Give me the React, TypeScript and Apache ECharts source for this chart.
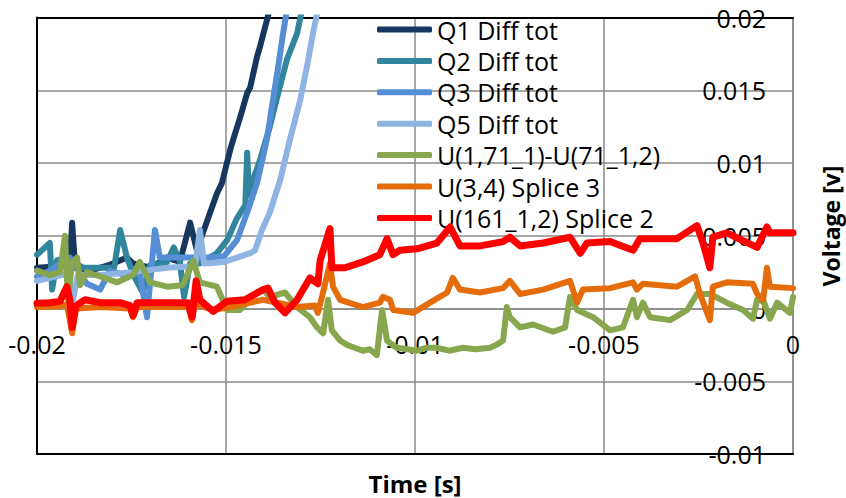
import React, { useEffect, useRef } from "react";
import * as echarts from "echarts";

const seriesNames = [
  "Q1 Diff tot",
  "Q2 Diff tot",
  "Q3 Diff tot",
  "Q5 Diff tot",
  "U(1,71_1)-U(71_1,2)",
  "U(3,4) Splice 3",
  "U(161_1,2) Splice 2",
];
const seriesColors = ["#17375E", "#31859C", "#558ED5", "#8EB4E3", "#87A64D", "#E46C0A", "#FF0000"];

const xTicks = [-0.02, -0.015, -0.01, -0.005, 0];
const yTicks = [-0.01, -0.005, 0, 0.005, 0.01, 0.015, 0.02];

const q1Diff = [
  [-0.02, 0.0028], [-0.0194, 0.0029], [-0.01913, 0.0032], [-0.01907, 0.0059], [-0.01899, 0.0028],
  [-0.0186, 0.0026], [-0.01807, 0.003], [-0.01762, 0.0035], [-0.01746, 0.0031], [-0.01701, 0.0028],
  [-0.01656, 0.0035], [-0.01622, 0.0032], [-0.01595, 0.0059], [-0.01577, 0.004], [-0.01561, 0.0052],
  [-0.01542, 0.0066], [-0.01524, 0.0079], [-0.01511, 0.0086], [-0.01489, 0.0109], [-0.01481, 0.0116],
  [-0.01463, 0.0131], [-0.01444, 0.0148], [-0.01436, 0.0152], [-0.01418, 0.0173], [-0.0141, 0.018],
  [-0.01392, 0.0198], [-0.01378, 0.0212],
];
const q2Diff = [
  [-0.02, 0.0037], [-0.01966, 0.0045], [-0.0196, 0.0013], [-0.01947, 0.0033], [-0.01921, 0.0035],
  [-0.01878, 0.0028], [-0.01833, 0.0028], [-0.01796, 0.0028], [-0.0178, 0.0054], [-0.01762, 0.0035],
  [-0.01743, 0.0022], [-0.0172, 0.0011], [-0.01701, 0.003], [-0.01656, 0.0032], [-0.01638, 0.0042],
  [-0.01622, 0.0032], [-0.01611, 0.0008], [-0.01595, 0.0031], [-0.01569, 0.0031], [-0.01524, 0.0038],
  [-0.01497, 0.0047], [-0.01471, 0.0062], [-0.01449, 0.0071], [-0.01444, 0.0107], [-0.01439, 0.0078],
  [-0.01436, 0.0083], [-0.0141, 0.0102], [-0.01384, 0.0125], [-0.01362, 0.0148], [-0.01339, 0.0171],
  [-0.01312, 0.0189], [-0.01304, 0.0199], [-0.01296, 0.0208],
];
const q3Diff = [
  [-0.02, 0.0022], [-0.01966, 0.0026], [-0.01913, 0.0035], [-0.01868, 0.0017], [-0.01833, 0.0013],
  [-0.01807, 0.0026], [-0.01767, 0.0023], [-0.01728, 0.0025], [-0.01709, -0.0006], [-0.01688, 0.0054],
  [-0.01675, 0.0035], [-0.01611, 0.0035], [-0.01542, 0.0035], [-0.01505, 0.0036], [-0.01471, 0.0047],
  [-0.01444, 0.0066], [-0.01418, 0.0086], [-0.01392, 0.0116], [-0.01376, 0.0143], [-0.01362, 0.0166],
  [-0.01349, 0.0189], [-0.01339, 0.0205],
];
const q5Diff = [
  [-0.02, 0.0019], [-0.01952, 0.0022], [-0.01921, 0.0024], [-0.01905, 0.0006], [-0.01892, 0.0023],
  [-0.01833, 0.0023], [-0.01746, 0.0025], [-0.01656, 0.0028], [-0.01582, 0.0029], [-0.01569, 0.0054],
  [-0.01558, 0.0031], [-0.01505, 0.0032], [-0.01471, 0.0035], [-0.01436, 0.0038], [-0.01423, 0.004],
  [-0.01405, 0.0054], [-0.01384, 0.0066], [-0.01357, 0.0088], [-0.01331, 0.0116], [-0.01304, 0.0143],
  [-0.01286, 0.0166], [-0.0127, 0.0189], [-0.01257, 0.0205],
];
const u171 = [
  [-0.02, 0.0026], [-0.01966, 0.0023], [-0.01939, 0.0025], [-0.01926, 0.005], [-0.01918, 0.0006],
  [-0.01907, 0.0032], [-0.01894, 0.0035], [-0.01886, 0.0016], [-0.01868, 0.0025], [-0.01833, 0.0022],
  [-0.01788, 0.0018], [-0.01746, 0.0023], [-0.01728, 0.0032], [-0.01701, 0.0018], [-0.01656, 0.0015],
  [-0.01614, 0.0016], [-0.01587, 0.0033], [-0.01569, 0.0018], [-0.01524, 0.0015], [-0.01497, -0.0001],
  [-0.01463, -0.0001], [-0.01418, 0.0011], [-0.01402, 0.0013], [-0.01384, 0.0008], [-0.01344, 0.0011],
  [-0.01312, 0.0001], [-0.01278, -0.0006], [-0.01259, -0.0013], [-0.01243, -0.0017], [-0.0123, 0.0006],
  [-0.0122, -0.0015], [-0.01198, -0.0022], [-0.0118, -0.0025], [-0.0116, -0.0027], [-0.01138, -0.0029],
  [-0.0112, -0.0028], [-0.01101, -0.0032], [-0.01087, -0.0001], [-0.01074, -0.0022], [-0.0106, -0.0025],
  [-0.01048, -0.0027], [-0.0102, -0.0028], [-0.00995, -0.0029], [-0.0097, -0.0027], [-0.00942, -0.0027],
  [-0.0091, -0.0029], [-0.00873, -0.0027], [-0.0084, -0.0028], [-0.00802, -0.0027], [-0.00785, -0.0025],
  [-0.00767, -0.0022], [-0.00757, 0.0001], [-0.00749, -0.0006], [-0.00722, -0.0013],
  [-0.00688, -0.0011], [-0.00635, -0.0016], [-0.00603, -0.0013], [-0.0059, 0.0008], [-0.00571, -0.0001],
  [-0.00529, -0.0006], [-0.00484, -0.0015], [-0.0045, -0.0013], [-0.00423, 0.0006], [-0.00413, -0.0006],
  [-0.00397, 0.0004], [-0.00378, -0.0006], [-0.00325, -0.0008], [-0.0028, -0.0001], [-0.00254, 0.001],
  [-0.0022, 0.001], [-0.00175, 0.0004], [-0.00132, -0.0001], [-0.00106, -0.0007], [-0.00095, 0.0006],
  [-0.00079, 0.0006], [-0.00061, -0.0007], [-0.00042, 0.0004], [-0.00008, -0.0003], [0, 0.0008],
];
const u34Splice3 = [
  [-0.02, 0.0001], [-0.01939, 0.00016], [-0.01921, 0.0003], [-0.01907, -0.0017], [-0.01897, 0.0],
  [-0.01833, 0.0001], [-0.01754, 0.0], [-0.01746, -0.0006], [-0.01735, 0.0001], [-0.01648, 0.0001],
  [-0.016, 0.0001], [-0.0159, -0.0008], [-0.01579, 0.0006], [-0.01569, 0.0002], [-0.01534, -0.0001],
  [-0.01489, 0.0001], [-0.01402, 0.0006], [-0.01312, 0.0001], [-0.01265, 0.0002], [-0.01257, -0.0003],
  [-0.01246, 0.0008], [-0.01225, 0.0031], [-0.01217, 0.0015], [-0.01198, 0.0006], [-0.01138, 0.0001],
  [-0.01093, 0.0004], [-0.01085, 0.0008], [-0.01066, 0.0006], [-0.01058, -0.0001], [-0.01005, -0.0003],
  [-0.0096, 0.0004], [-0.00915, 0.0011], [-0.009, 0.0021], [-0.00881, 0.0013], [-0.00828, 0.0011],
  [-0.00767, 0.0014], [-0.00749, 0.0019], [-0.00722, 0.001], [-0.00661, 0.0013], [-0.0059, 0.0019],
  [-0.00571, 0.0004], [-0.00556, 0.0013], [-0.00484, 0.0014], [-0.00423, 0.0018], [-0.00413, 0.0013],
  [-0.00397, 0.0017], [-0.00307, 0.0015], [-0.00259, 0.0022], [-0.00246, 0.001], [-0.0022, -0.0008],
  [-0.00212, 0.0015], [-0.00175, 0.0018], [-0.00106, 0.0017], [-0.00095, 0.001], [-0.00079, 0.0006],
  [-0.00069, 0.0028], [-0.00061, 0.0015], [0, 0.0014],
];
const u161Splice2 = [
  [-0.02, 0.00036], [-0.01966, 0.0004], [-0.01939, 0.0005], [-0.01921, 0.0015], [-0.01913, 0.0006],
  [-0.01907, -0.0013], [-0.01897, 0.0002], [-0.01873, 0.0006], [-0.01833, 0.0004], [-0.0178, 0.0004],
  [-0.01754, 0.0002], [-0.01746, -0.0005], [-0.01735, 0.0004], [-0.01701, 0.0004], [-0.01648, 0.0004],
  [-0.016, 0.0004], [-0.0159, -0.0006], [-0.01579, 0.0019], [-0.01569, 0.0006], [-0.01534, -0.0002],
  [-0.01497, 0.0005], [-0.0145, 0.0006], [-0.01402, 0.0013], [-0.01389, 0.0014], [-0.0137, 0.0004],
  [-0.01344, -0.0003], [-0.01312, 0.0006], [-0.01278, 0.0021], [-0.01257, 0.0017], [-0.01251, 0.0033],
  [-0.01225, 0.0055], [-0.0122, 0.0028], [-0.01185, 0.0028], [-0.01138, 0.0032], [-0.01093, 0.0037],
  [-0.01074, 0.0048], [-0.01058, 0.0037], [-0.0104, 0.004], [-0.00995, 0.0041], [-0.00942, 0.0045],
  [-0.00907, 0.0056], [-0.00881, 0.0043], [-0.00828, 0.0043], [-0.00767, 0.0046], [-0.00749, 0.0049],
  [-0.00722, 0.0043], [-0.00661, 0.0045], [-0.0059, 0.0049], [-0.00563, 0.0038], [-0.00545, 0.0045],
  [-0.00484, 0.0046], [-0.00423, 0.004], [-0.00405, 0.0048], [-0.00307, 0.0048], [-0.00254, 0.0057],
  [-0.00238, 0.0045], [-0.0022, 0.0028], [-0.00212, 0.0049], [-0.00175, 0.0052], [-0.00095, 0.0042],
  [-0.00069, 0.0056], [-0.00061, 0.0052], [0, 0.0052],
];

const seriesData = [q1Diff, q2Diff, q3Diff, q5Diff, u171, u34Splice3, u161Splice2];

const FONT = "'Open Sans', 'DejaVu Sans', sans-serif";
const fmt = (v: number) => String(Number(v.toFixed(4)));

const W = 846;
const H = 498;
const GRID = { left: 37, top: 17.5, right: 53, bottom: 44 };

export default function App() {
  const ref = useRef<HTMLDivElement>(null);
  useEffect(() => {
    if (!ref.current) return;
    const chart = echarts.init(ref.current, undefined, { renderer: "svg" });
    const yMin = yTicks[0];
    const yMax = yTicks[yTicks.length - 1];
    const gridH = H - GRID.top - GRID.bottom;
    // x axis crosses at y = 0 (Excel-style): shift the bottom axis up to zero
    const zeroOffset = (gridH * (0 - yMin)) / (yMax - yMin);
    const hiddenAxis = {
      axisLabel: { show: false },
      axisTick: { show: false },
      splitLine: { show: false },
    };
    chart.setOption({
      animation: false,
      backgroundColor: "#ffffff",
      grid: { ...GRID, containLabel: false },
      legend: {
        orient: "vertical",
        left: 377,
        top: 17,
        padding: 0,
        icon: "roundRect",
        itemWidth: 55,
        itemHeight: 6,
        itemGap: 6.4,
        data: seriesNames,
        textStyle: { fontFamily: FONT, fontSize: 25, color: "#000", lineHeight: 25 },
      },
      xAxis: [
        {
          type: "value",
          min: xTicks[0],
          max: xTicks[xTicks.length - 1],
          interval: 0.005,
          position: "bottom",
          offset: -zeroOffset,
          axisLine: { show: true, onZero: false, lineStyle: { color: "#8a8a8a", width: 1.5 } },
          axisTick: { show: false },
          axisLabel: {
            fontFamily: FONT,
            fontSize: 25,
            color: "#000",
            margin: 23,
            formatter: (v: number) => fmt(v),
          },
          splitLine: { show: true, lineStyle: { color: "#8a8a8a", width: 1.5 } },
        },
        {
          type: "value",
          min: xTicks[0],
          max: xTicks[xTicks.length - 1],
          position: "top",
          axisLine: { show: true, onZero: false, lineStyle: { color: "#000", width: 2 } },
          ...hiddenAxis,
        },
        {
          type: "value",
          min: xTicks[0],
          max: xTicks[xTicks.length - 1],
          position: "bottom",
          axisLine: { show: true, onZero: false, lineStyle: { color: "#000", width: 2 } },
          ...hiddenAxis,
        },
      ],
      yAxis: [
        {
          type: "value",
          min: yMin,
          max: yMax,
          interval: 0.005,
          position: "right",
          axisLine: { show: true, onZero: false, lineStyle: { color: "#8a8a8a", width: 1.5 } },
          axisTick: { show: false },
          axisLabel: {
            inside: true,
            fontFamily: FONT,
            fontSize: 25,
            color: "#000",
            margin: 27,
            formatter: (v: number) => fmt(v),
          },
          splitLine: { show: true, lineStyle: { color: "#8a8a8a", width: 1.5 } },
        },
        {
          type: "value",
          min: yMin,
          max: yMax,
          position: "left",
          axisLine: { show: true, onZero: false, lineStyle: { color: "#000", width: 2 } },
          ...hiddenAxis,
        },
      ],
      graphic: [
        {
          type: "text",
          x: 415,
          y: 483,
          style: {
            text: "Time [s]",
            font: `bold 24px ${FONT}`,
            fill: "#000",
            textAlign: "center",
            textVerticalAlign: "middle",
          },
        },
        {
          type: "text",
          x: 831,
          y: 226,
          rotation: Math.PI / 2,
          style: {
            text: "Voltage [v]",
            font: `bold 23px ${FONT}`,
            fill: "#000",
            textAlign: "center",
            textVerticalAlign: "middle",
          },
        },
      ],
      series: seriesNames.map((name, i) => ({
        name,
        type: "line",
        xAxisIndex: 0,
        yAxisIndex: 0,
        data: seriesData[i],
        showSymbol: false,
        symbol: "none",
        clip: true,
        color: seriesColors[i],
        lineStyle: {
          color: seriesColors[i],
          width: i === 6 ? 7 : 6,
          cap: "round",
          join: "round",
        },
        z: 2 + i,
      })),
    });
    return () => chart.dispose();
  }, []);
  return (
    <div
      ref={ref}
      style={{ position: "fixed", left: 0, top: 0, width: W, height: H, background: "#fff" }}
    />
  );
}
